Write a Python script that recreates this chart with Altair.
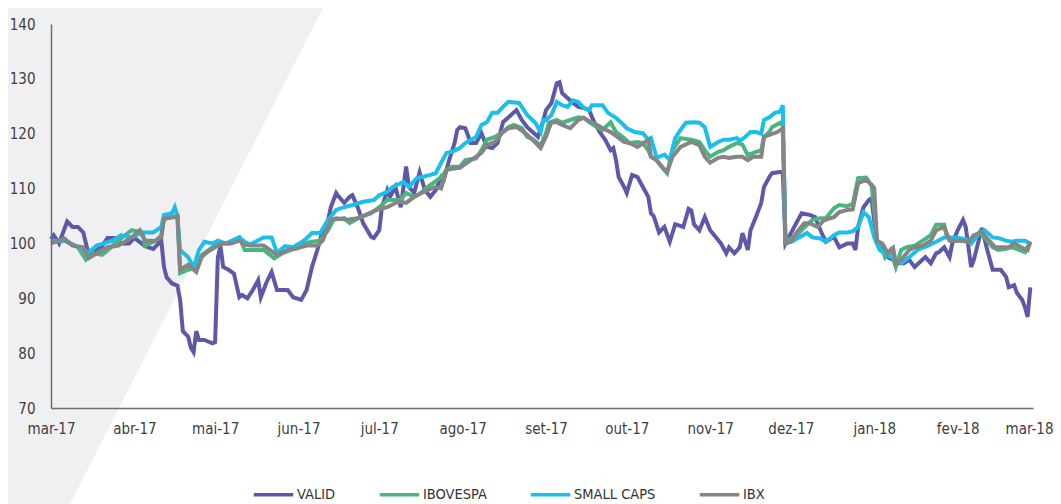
import altair as alt
import pandas as pd

START = "2017-03-01"
series_names = ["VALID", "IBOVESPA", "SMALL CAPS", "IBX"]
series_colors = ["#5d59a8", "#4bb57f", "#1bbfe9", "#858585"]
month_labels = ["jan", "fev", "mar", "abr", "mai", "jun", "jul", "ago", "set", "out", "nov", "dez"]
y_ticks = [70, 80, 90, 100, 110, 120, 130, 140]

# (days since 2017-03-01, index value)
valid = [(0,100.8),(1,101.5),(3,100),(6,104),(8,103),(10,103),(12,102),(13,100),(14,98),(16,98.5),(19,99.5),(21,101),(24,101),(26,100),(29,100),(31,101),(35,99.5),(38,99),(40,100),(41,100.5),(42,95.7),(43,93.8),(45,92.7),(47,92.3),(48,89.7),(49,84),(51,83),(52,81),(53,80.2),(54,84),(55,82.4),(57,82.4),(60,81.8),(61,82),(62,97.4),(63,99.5),(64,95.7),(66,95.2),(68,94.5),(70,90.2),(71,90.6),(73,90),(75,91.5),(77,93.3),(78,90.2),(80,92.8),(82,94.8),(84,91.5),(88,91.5),(90,90.2),(93,89.7),(95,91.5),(97,95.7),(99,98.8),(101,102.4),(103,104.3),(104,106.6),(106,109.2),(107,108.5),(109,107.4),(111,108.5),(112,108.8),(114,106.6),(116,103.7),(119,101.2),(120,101),(122,102.4),(123,106.6),(125,109.7),(126,108.5),(128,110.3),(130,106.6),(131,110.3),(132,114),(133,110.3),(135,109.2),(137,113),(139,109.7),(141,108.5),(143,109.7),(145,112.1),(146,111.6),(148,115.2),(150,118.3),(151,120.7),(152,121.2),(154,121),(156,118.3),(158,118.3),(160,120.1),(162,117.6),(164,117.4),(166,118.3),(168,122.1),(171,123.4),(173,124.3),(175,122.5),(177,121.2),(179,120.3),(181,119.4),(183,122.5),(184,124.3),(186,125.6),(188,129.2),(189,129.4),(190,127.4),(192,126.5),(194,125.6),(196,124.9),(198,124.7),(200,124.3),(202,122),(204,120.3),(206,118.9),(208,117),(209,117.4),(210,115.2),(211,112.1),(213,110.3),(214,109.2),(216,112.5),(218,112.1),(220,110.3),(222,108.5),(223,105.5),(224,105),(226,102),(228,103),(230,100.3),(232,103.5),(235,103),(237,106.3),(238,106),(239,103.5),(241,102.4),(243,104.8),(245,102.4),(247,101.2),(249,100),(251,98.2),(252,99.3),(254,98.2),(256,99.3),(257,101.9),(259,98.8),(260,102.4),(262,104.8),(264,107.4),(265,110.3),(267,112.1),(268,112.8),(271,113),(272,113),(273,100),(277,103.7),(279,105.5),(282,105.2),(284,104.8),(286,102.4),(288,100.3),(291,101.2),(293,99.3),(296,100),(298,100),(299,98.8),(300,103),(302,106.6),(304,107.9),(305,108.2),(306,104),(307,100),(309,98.8),(311,97.5),(313,97),(315,96.4),(317,96.4),(319,97),(321,95.7),(323,96.6),(325,97.5),(327,96.4),(329,98.2),(330,98.4),(332,99.3),(334,97.5),(335,100),(337,102.4),(339,104.3),(340,103),(342,95.7),(343,97),(346,102.8),(348,98.8),(350,95.2),(353,95.2),(355,93.9),(356,92),(358,92.4),(359,91),(361,89.7),(362,88.4),(363,86.6),(364,92)]

ibovespa = [(0,100.3),(5,100.5),(8,99.8),(10,99.3),(13,97),(16,98.2),(19,97.9),(23,99.6),(26,100.9),(30,102.4),(34,102),(35,99.6),(39,100.5),(41,101.5),(42,104.5),(46,104.8),(47,104.8),(48,94.6),(51,95.2),(54,95.5),(56,97.9),(60,99.3),(62,100),(66,100),(70,101.1),(72,98.8),(74,98.8),(79,98.8),(83,97.3),(86,98.2),(90,99),(94,100),(97,100.3),(100,100.5),(103,102.4),(105,104.3),(109,104.6),(111,103.7),(115,104.8),(119,105.5),(122,106.6),(125,107.9),(127,107.9),(130,108),(132,109.2),(135,108.5),(137,109),(140,110.3),(142,111),(145,112.1),(147,113.4),(149,114),(152,114),(154,115.2),(158,115.5),(160,117),(162,118.9),(165,119.4),(168,120.3),(170,121.2),(172,121.6),(175,121),(177,119.4),(179,119),(182,117.9),(184,120.1),(185,122),(188,122.5),(190,122),(193,122.5),(196,123),(198,122.9),(200,122.1),(203,121.2),(205,120.7),(208,122.1),(210,120.3),(213,119.2),(215,118.3),(218,118.5),(220,118.3),(222,117),(223,115.8),(225,115.2),(227,114),(229,112.8),(231,117),(234,119.2),(238,118.9),(241,118.5),(243,117),(245,115.8),(248,116.7),(250,117),(252,117.6),(255,118.3),(257,118),(259,116.1),(261,116.5),(264,117),(265,119.4),(267,120.3),(268,121.2),(271,122),(272,121.5),(273,100.3),(276,101.2),(278,101.9),(281,103.4),(283,104.3),(286,104.6),(288,104.6),(291,106.4),(293,107),(296,106.8),(298,107.2),(300,111.9),(303,112),(305,110.5),(306,106.1),(307,100.5),(309,99),(310,97.5),(312,98.8),(314,95.7),(316,98.8),(318,99.3),(321,99.6),(324,100.5),(327,101.5),(329,103.4),(332,103.4),(333,101.1),(336,100.5),(340,100.5),(342,100),(345,102),(347,101.1),(350,99.3),(352,98.8),(355,99),(357,99.3),(359,99),(362,98.4),(364,100.3)]

small_caps = [(0,100.5),(5,100.5),(9,99.6),(14,98.4),(17,99.6),(23,100.5),(26,101.5),(30,101.1),(34,102),(38,102),(41,103),(42,105.2),(45,105.5),(46,106.6),(47,105),(48,98.8),(51,97.5),(53,95.6),(55,98.8),(57,100.3),(60,100),(62,100.5),(65,100),(70,101.1),(72,100.3),(74,99.8),(79,101.1),(82,101.1),(84,98.3),(87,99.5),(90,99.3),(94,100.5),(97,101.9),(100,101.9),(103,104.3),(106,106.1),(109,106.6),(112,107),(116,107.6),(120,107.9),(122,108.8),(125,109.4),(127,110.3),(131,111.2),(133,110.3),(136,111.9),(138,112.1),(141,112.5),(143,112.8),(145,114.7),(147,116.5),(149,116.7),(152,117.4),(154,118.3),(158,119.4),(160,121.6),(162,122.1),(164,123.8),(166,123.8),(168,124.9),(170,125.8),(174,125.6),(175,124.9),(177,123.4),(180,122),(182,120.3),(183,122.5),(184,122.5),(186,123.4),(188,125.8),(190,125.2),(192,124.9),(194,126.1),(196,125.8),(198,124.7),(200,124.3),(201,125.2),(205,125.2),(207,123.8),(210,122.9),(212,122),(214,121),(217,120.3),(220,120.1),(222,118.9),(223,119.2),(225,115.8),(226,115.8),(228,116.2),(230,115.2),(232,119.2),(234,120.7),(236,122),(239,122.1),(241,122),(243,121.2),(245,117.6),(248,118.5),(250,118.9),(252,118.9),(255,119.2),(256,118.7),(258,119.4),(260,120.3),(262,120.3),(264,120),(265,122.5),(267,123),(269,123.8),(271,124),(272,125.2),(273,100),(276,100.5),(278,101.1),(281,101.9),(283,101.1),(286,100.9),(288,100.3),(291,101.5),(293,102),(296,102),(298,102.2),(300,103),(302,105.7),(304,104.8),(306,101.1),(308,98.8),(311,97.9),(314,97),(316,96.4),(319,97.5),(322,98.8),(326,99.6),(329,100.3),(332,101.1),(336,101.1),(340,100.8),(342,100),(345,101.9),(347,102.4),(350,101.1),(352,101),(355,100.5),(357,100.3),(359,100.5),(362,100.5),(364,100)]

ibx = [(0,100),(3,100.5),(5,100.9),(8,99.6),(12,99.3),(14,97.3),(17,98.2),(21,99.3),(25,99.6),(28,100.5),(30,101.1),(33,102.4),(35,100.5),(39,100.5),(41,101.1),(42,104.5),(45,104.8),(47,105),(48,95.2),(51,96.1),(54,94.8),(56,97.5),(58,98.4),(61,99.3),(64,100),(67,100),(70,100.5),(72,99.8),(74,99.6),(79,99.6),(84,97.9),(88,98.8),(91,99),(95,99.6),(99,99.6),(101,100.5),(104,104.3),(106,104.6),(110,104.3),(114,104.6),(117,105.2),(121,106.1),(125,106.6),(129,107.6),(132,107.4),(135,108.5),(137,109),(140,109.7),(143,110.3),(145,110),(147,113.4),(149,113.6),(152,113.8),(154,114.5),(158,115.8),(160,116.5),(162,117.9),(165,118.5),(168,120.3),(170,121),(173,121.2),(175,120.6),(177,119.8),(179,118.9),(182,117.4),(184,119.5),(186,122.1),(188,122.1),(190,121.6),(193,121),(196,122.5),(198,122.9),(200,122.3),(203,121.6),(205,121),(208,120.3),(210,119.6),(213,118.5),(215,118.3),(218,117.6),(222,118.9),(223,115.8),(225,115.2),(227,114),(229,113),(231,115.8),(234,117.6),(238,118.5),(241,117.9),(243,115.8),(245,114.7),(248,115.6),(250,115.8),(252,115.6),(255,115.8),(257,115.8),(259,115.2),(261,115.8),(264,115.8),(265,119.4),(267,119.8),(270,120.3),(272,121),(273,100),(275,100.3),(277,101.9),(280,103.7),(282,103.7),(285,103),(287,104.1),(289,104.5),(291,104.8),(293,105.7),(296,106.1),(298,106.2),(300,111),(303,111.6),(305,110.7),(306,110.1),(307,100.5),(309,100),(311,98.2),(313,99.2),(314,96.4),(316,97),(319,98.8),(321,99.3),(324,99.6),(327,100.5),(329,102.4),(332,103),(334,100.5),(338,100.5),(341,100.3),(343,101.5),(346,102),(348,100.9),(351,99.3),(353,99.3),(356,99.3),(358,100),(361,99.2),(363,98.8),(364,100.3)]

rows = []
base = pd.Timestamp(START)
for name, pts in zip(series_names, [valid, ibovespa, small_caps, ibx]):
    for d, v in pts:
        rows.append({"series": name, "date": base + pd.Timedelta(days=d), "value": v})
df = pd.DataFrame(rows)

# decorative diagonal band in the background (pixel space of the plot)
band = pd.DataFrame({"py": [-24, 488], "xl": [-51, -51], "xr": [276, 15]})

FONT = "'Liberation Sans Narrow', 'DejaVu Sans Condensed', Roboto, sans-serif"

bg = alt.Chart(band).mark_area(orient="horizontal", color="#f0f0f2").encode(
    y=alt.Y("py:Q", scale=None, axis=None),
    x=alt.X("xl:Q", scale=None, axis=None),
    x2="xr:Q",
)

label_expr = (
    "[" + ",".join("'" + m + "'" for m in month_labels) + "][month(datum.value)]"
    " + '-' + timeFormat(datum.value, '%y')"
)

lines = alt.Chart(df).mark_line(strokeWidth=4).encode(
    x=alt.X(
        "date:T",
        title=None,
        scale=alt.Scale(domain=[alt.DateTime(year=2017, month=3, date=1),
                                alt.DateTime(year=2018, month=3, date=1)]),
        axis=alt.Axis(tickCount={"interval": "month", "step": 1}, labelExpr=label_expr,
                      labelPadding=13, labelFlush=False, labelOverlap=False, zindex=1,
                      labelOffset={"condition": {"test": "datum.index >= 0.99", "value": -4},
                                   "value": 0}),
    ),
    y=alt.Y(
        "value:Q",
        title=None,
        scale=alt.Scale(domain=[70, 140], nice=False, zero=False),
        axis=alt.Axis(values=y_ticks, labelPadding=16, labelFlush=False, zindex=1),
    ),
    color=alt.Color(
        "series:N",
        sort=series_names,
        scale=alt.Scale(domain=series_names, range=series_colors),
        legend=alt.Legend(
            title=None, orient="none", legendX=201, legendY=449, direction="horizontal",
            symbolType="stroke", symbolSize=1560, symbolStrokeWidth=3.5,
            labelFontSize=14.5, labelFont=FONT, labelColor="#333333", labelOffset=2,
            columnPadding=36,
        ),
    ),
)

chart = (
    alt.layer(bg, lines)
    .resolve_scale(x="independent", y="independent")
    .properties(
        width=982, height=384,
        autosize=alt.AutoSizeParams(type="none"),
        padding={"left": 43, "top": 16, "right": 20, "bottom": 96},
        background="white",
    )
    .configure_view(stroke=None)
    .configure_axis(
        grid=False, ticks=False, domainColor="#6e6e6e", domainWidth=1.5,
        labelFont=FONT, labelFontSize=15, labelColor="#404040",
    )
)

chart.save("out.html", embed_options={"renderer": "svg", "actions": False})
